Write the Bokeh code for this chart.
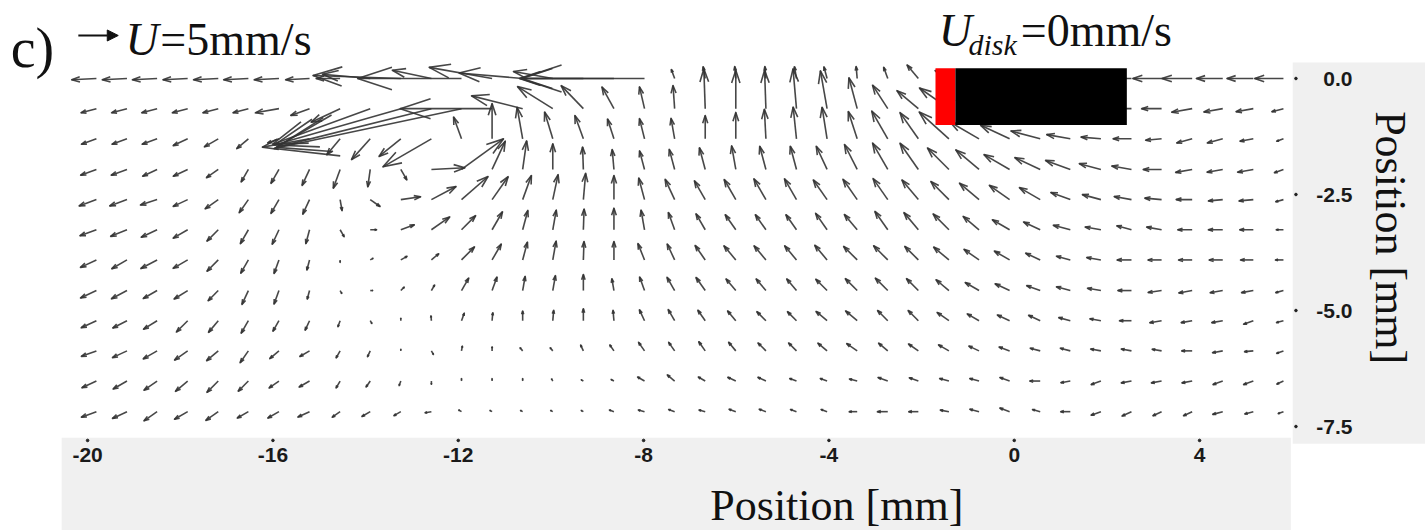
import math
from bokeh.plotting import figure
from bokeh.models import Range1d, Label, Arrow, NormalHead
from bokeh.core.properties import value
from bokeh.embed import file_html
from bokeh.resources import INLINE

# ---------------- data ----------------
# grid positions of the vectors [mm]
x_grid = [-19.81, -19.15, -18.50, -17.84, -17.18, -16.53, -15.87, -15.21, -14.55, -13.90,
          -13.24, -12.58, -11.93, -11.27, -10.61, -9.96, -9.30, -8.64, -7.98, -7.33,
          -6.67, -6.01, -5.36, -4.70, -4.04, -3.39, -2.73, -2.07, -1.41, -0.76,
          -0.10, 0.56, 1.21, 1.87, 2.53, 3.18, 3.84, 4.50, 5.16, 5.81]
y_grid = [0.0, -0.65, -1.30, -1.96, -2.61, -3.26, -3.91, -4.57, -5.22, -5.87, -6.52, -7.18]

# direction [deg, 0 = +x, 90 = +y] and speed [mm/s] of each vector, one list per row
ang_r00 = [183, 183, 183, 183, 183, 183, 183, 183, 180, 175, 178, 168, 180, 170, 175, 170, 180, 180, 180,
           110, 100, 95, 95, 100, 105, 95, 110, 130, 150, 160, 170, 175, 180, 180, 180, 180, 180, 180, 180, 180]
spd_r00 = [3.1, 3.1, 3.1, 3.1, 3.1, 3.1, 3.1, 3.0, 3.0, 6.0, 11, 5, 13, 8, 8, 5, 8, 11.5, 15.5,
           1.2, 1.5, 1.5, 1.5, 1.5, 1.5, 1.5, 1.5, 2.2, 2.0, 2.0, 2.0, 2.0, 2.0, 2.0, 1.0, 3.6, 3.8, 3.3, 3.3, 3.6]
ang_r01 = [195, 195, 195, 195, 195, 195, 190, 200, 205, 200, 196, 194, 192, 180, 166, 148, 134, 119, 103, 94,
           92, 90, 92, 95, 100, 105, 123, 140, 145, 160, 165, 170, 175, 180, 180, 180, 190, 190, 190, 195]
spd_r01 = [2.0, 2.0, 2.0, 2.0, 2.0, 2.0, 3.0, 2.5, 4.0, 13, 16.5, 20, 24, 11.5, 6.6, 5.2, 4.0, 3.1, 2.8, 2.9,
           5.0, 4.8, 4.8, 5.0, 4.8, 4.0, 3.5, 3.5, 4.5, 3, 3, 3, 3, 3, 1.8, 2.5, 2.6, 2.4, 2.2, 1.5]
ang_r02 = [200, 200, 200, 205, 210, 220, 200, 190, 230, 228, 219, 210, 110, 90, 100, 107, 110, 108, 104, 100,
           90, 90, 93, 96, 99, 108, 120, 125, 138, 150, 155, 165, 170, 175, 180, 185, 195, 195, 190, 200]
spd_r02 = [2.0, 2.0, 2.0, 2.0, 2.0, 1.9, 1.5, 6.0, 2.6, 3.5, 3.5, 7.0, 2.9, 4.4, 4.0, 3.5, 3.1, 2.6, 2.6, 2.6,
           2.9, 3.3, 3.7, 4.0, 4.0, 3.6, 4.0, 4.0, 5.0, 4.2, 4.0, 3.8, 3.0, 2.5, 2.3, 2.0, 2.0, 2.0, 1.7, 0.9]
ang_r03 = [200, 200, 205, 205, 215, 240, 240, 245, 250, 262, 300, 3, 36, 65, 82, 90, 92, 95, 105, 105,
           105, 100, 105, 105, 115, 117, 120, 125, 135, 140, 150, 155, 160, 165, 170, 180, 190, 190, 190, 200]
spd_r03 = [2.1, 2.1, 2.0, 2.0, 1.8, 1.8, 2.0, 2.2, 2.5, 2.2, 1.5, 4.2, 6.5, 3.9, 3.6, 3.2, 2.8, 2.5, 2.4, 2.6,
           2.8, 3.0, 3.0, 3.0, 3.2, 3.5, 3.8, 4.0, 3.8, 3.8, 3.7, 3.5, 3.3, 2.8, 2.5, 2.3, 2.1, 2.0, 2.0, 1.2]
ang_r04 = [200, 200, 198, 205, 215, 235, 240, 245, 280, 325, 8, 28, 41, 55, 70, 78, 85, 90, 105, 115,
           120, 120, 120, 120, 125, 125, 125, 130, 135, 140, 145, 150, 160, 165, 170, 175, 180, 185, 185, 195]
spd_r04 = [2.3, 2.3, 2.2, 2.0, 2.0, 2.0, 2.0, 2.0, 1.4, 1.5, 2.5, 3.5, 4.4, 3.5, 3.2, 3.2, 3.3, 3.0, 2.8, 2.8,
           2.7, 2.9, 3.0, 3.0, 3.0, 3.1, 3.2, 3.2, 3.2, 3.2, 3.1, 3.0, 2.6, 2.4, 2.2, 2.1, 2.0, 1.8, 1.8, 1.0]
ang_r05 = [200, 202, 205, 210, 225, 240, 245, 255, 300, 0, 20, 35, 45, 60, 75, 80, 88, 90, 100, 110,
           120, 125, 125, 125, 125, 130, 125, 130, 135, 140, 150, 155, 165, 170, 165, 170, 180, 180, 180, 180]
spd_r05 = [2.2, 2.2, 2.2, 2.1, 2.0, 2.0, 2.0, 1.8, 1.0, 0.8, 1.8, 2.8, 2.5, 2.6, 2.5, 2.5, 2.6, 2.7, 2.5, 2.3,
           2.3, 2.3, 2.3, 2.3, 2.5, 2.5, 2.8, 2.8, 2.8, 2.6, 2.5, 2.3, 2.2, 2.0, 1.9, 1.9, 1.8, 1.8, 1.7, 0.9]
ang_r06 = [205, 210, 208, 210, 225, 240, 250, 255, 270, 30, 30, 40, 45, 60, 75, 80, 88, 90, 112, 115,
           125, 130, 130, 130, 130, 135, 135, 135, 140, 145, 150, 155, 165, 170, 180, 180, 180, 180, 180, 180]
spd_r06 = [2.2, 2.2, 2.3, 2.1, 2.0, 1.9, 1.8, 1.3, 0.3, 0.4, 0.9, 1.2, 2.3, 2.3, 2.3, 2.4, 2.3, 2.3, 2.2, 2.2,
           2.2, 2.3, 2.3, 2.3, 2.4, 2.4, 2.5, 2.4, 2.5, 2.3, 2.2, 2.0, 1.8, 1.8, 1.8, 1.7, 1.7, 1.7, 1.6, 1.0]
ang_r07 = [205, 208, 210, 212, 225, 245, 250, 255, 300, 0, 45, 60, 60, 70, 80, 80, 90, 100, 110, 120,
           125, 130, 130, 130, 135, 135, 135, 135, 140, 150, 155, 160, 165, 170, 180, 188, 190, 190, 190, 195]
spd_r07 = [2.2, 2.2, 2.0, 2.0, 1.8, 1.9, 1.8, 1.1, 0.4, 0.3, 0.6, 0.8, 1.8, 1.8, 1.8, 1.9, 2.0, 1.5, 1.8, 1.9,
           2.0, 1.9, 1.9, 1.9, 2.0, 2.1, 2.2, 2.1, 2.1, 2.0, 2.0, 1.8, 1.8, 1.7, 1.7, 1.7, 1.7, 1.6, 1.5, 1.0]
ang_r08 = [205, 207, 212, 225, 230, 240, 240, 245, 250, 300, 90, 95, 70, 85, 90, 85, 90, 95, 115, 120,
           125, 130, 135, 135, 140, 140, 135, 135, 145, 150, 155, 155, 165, 170, 180, 190, 190, 190, 200, 195]
spd_r08 = [2.1, 2.0, 2.0, 2.0, 1.9, 1.8, 1.5, 1.3, 0.8, 0.4, 0.3, 0.6, 1.0, 1.0, 1.2, 1.3, 1.5, 1.3, 1.5, 1.6,
           1.6, 1.6, 1.6, 1.6, 1.8, 1.9, 1.8, 1.8, 1.8, 1.7, 1.7, 1.6, 1.5, 1.4, 1.5, 1.5, 1.4, 1.4, 1.3, 0.9]
ang_r09 = [200, 205, 210, 215, 220, 235, 220, 210, 240, 245, 90, 300, 80, 90, 130, 130, 115, 125, 125, 125,
           125, 130, 135, 135, 140, 145, 140, 145, 150, 155, 160, 165, 165, 170, 170, 170, 180, 190, 185, 200]
spd_r09 = [2.0, 2.0, 2.0, 2.0, 1.9, 1.8, 1.5, 1.4, 1.0, 0.8, 0.2, 0.5, 0.6, 0.5, 0.5, 0.5, 0.8, 0.9, 1.3, 1.3,
           1.4, 1.4, 1.4, 1.4, 1.5, 1.6, 1.5, 1.5, 1.5, 1.4, 1.4, 1.3, 1.3, 1.3, 1.3, 1.2, 1.3, 1.3, 1.1, 0.9]
ang_r10 = [205, 210, 215, 220, 225, 225, 215, 210, 240, 235, 250, 270, 90, 90, 90, 120, 150, 150, 150, 140,
           150, 155, 155, 160, 160, 165, 160, 160, 165, 165, 160, 180, 190, 200, 190, 190, 190, 200, 200, 205]
spd_r10 = [2.0, 2.0, 2.0, 2.0, 2.0, 1.8, 1.5, 1.5, 1.0, 0.9, 0.6, 0.4, 0.3, 0.3, 0.3, 0.3, 0.3, 0.4, 1.0, 1.2,
           1.0, 1.1, 1.1, 0.9, 0.9, 1.0, 1.3, 1.2, 1.2, 1.2, 1.3, 1.3, 1.2, 1.3, 1.3, 1.3, 1.3, 1.3, 1.3, 0.9]
ang_r11 = [200, 205, 215, 210, 215, 210, 210, 205, 215, 210, 210, 190, 150, 150, 150, 150, 150, 160, 165, 160,
           165, 160, 160, 160, 160, 180, 180, 180, 170, 165, 160, 165, 180, 200, 205, 205, 205, 195, 195, 200]
spd_r11 = [2.0, 2.0, 2.0, 1.9, 1.9, 1.6, 1.6, 1.6, 1.2, 1.2, 1.0, 0.8, 0.4, 0.3, 0.3, 0.3, 0.3, 0.6, 0.8, 0.8,
           0.8, 0.9, 0.9, 0.8, 0.8, 1.0, 1.3, 1.2, 1.1, 1.2, 1.3, 1.0, 1.2, 1.3, 1.3, 1.2, 1.2, 1.3, 1.1, 0.7]

angle_rows = [ang_r00, ang_r01, ang_r02, ang_r03, ang_r04, ang_r05,
              ang_r06, ang_r07, ang_r08, ang_r09, ang_r10, ang_r11]
speed_rows = [spd_r00, spd_r01, spd_r02, spd_r03, spd_r04, spd_r05,
              spd_r06, spd_r07, spd_r08, spd_r09, spd_r10, spd_r11]

# disk (red leading edge + black body) [mm]
disk_edges_x = [-1.70, -1.27, 2.43]
disk_edges_y = [-1.00, 0.22]

legend_speed = 5      # mm/s, reference arrow
disk_speed = 0        # mm/s

x_ticks = [-20, -16, -12, -8, -4, 0, 4]
x_tick_labels = ["-20", "-16", "-12", "-8", "-4", "0", "4"]
y_ticks = [0.0, -2.5, -5.0, -7.5]
y_tick_labels = ["0.0", "-2.5", "-5.0", "-7.5"]

# ---------------- layout (mm of the data space) ----------------
X0, X1 = -20.56, 6.0          # plotted area
Y0, Y1 = -7.74, 0.34
SCALE = 0.1724                # mm of arrow per mm/s
HEAD_A = 0.33
HEAD_B = 0.33

# the frame spans the whole canvas so that the texts in the margins are never clipped
p = figure(width=1425, height=530, x_range=Range1d(-21.88, 8.876), y_range=Range1d(-9.741, 1.681),
           output_backend="svg", toolbar_location=None,
           x_axis_location=None, y_axis_location=None, min_border=0)
p.grid.visible = False
p.outline_line_color = None
p.background_fill_color = "white"
p.border_fill_color = "white"

GRAY = "#f0f0f0"
# gray axis panels
p.quad(left=[X0], right=[5.97], top=[Y0], bottom=[-9.741], fill_color=GRAY, line_color=None)
p.quad(left=[6.01], right=[8.876], top=[Y1 + 0.005], bottom=[-7.87], fill_color=GRAY, line_color=None)

# ticks and tick labels
TICK_FONT = value("Liberation Sans")
p.scatter(x=x_ticks, y=[-7.80] * len(x_ticks), marker="circle", size=2.6, color="#222222")
p.text(x=x_ticks, y=[-7.96] * len(x_ticks), text=x_tick_labels, text_font=TICK_FONT,
       text_font_style="bold", text_font_size="21px", text_align="center", text_baseline="top",
       text_color="#1a1a1a")
p.scatter(x=[6.08] * len(y_ticks), y=y_ticks, marker="circle", size=2.6, color="#222222")
p.text(x=[7.30] * len(y_ticks), y=y_ticks, text=y_tick_labels, text_font=TICK_FONT,
       text_font_style="bold", text_font_size="21px", text_align="right", text_baseline="middle",
       text_color="#1a1a1a")

# vectors (MATLAB-quiver style heads)
shaft_xs, shaft_ys, head_xs, head_ys = [], [], [], []
for r, (angs, spds) in enumerate(zip(angle_rows, speed_rows)):
    y0 = y_grid[r]
    for c, (a, s) in enumerate(zip(angs, spds)):
        x0 = x_grid[c]
        u = SCALE * s * math.cos(math.radians(a))
        v = SCALE * s * math.sin(math.radians(a))
        x1, y1 = x0 + u, y0 + v
        shaft_xs.append([x0, x1])
        shaft_ys.append([y0, y1])
        head_xs.append([x1 - HEAD_A * (u + HEAD_B * v), x1, x1 - HEAD_A * (u - HEAD_B * v)])
        head_ys.append([y1 - HEAD_A * (v - HEAD_B * u), y1, y1 - HEAD_A * (v + HEAD_B * u)])

ARROW_COLOR = "#333333"
p.multi_line(shaft_xs, shaft_ys, line_color=ARROW_COLOR, line_width=1.6, line_alpha=0.9)
p.multi_line(head_xs, head_ys, line_color=ARROW_COLOR, line_width=1.6, line_alpha=0.9,
             line_join="round")

# disk
p.quad(left=[disk_edges_x[0]], right=[disk_edges_x[1]], bottom=[disk_edges_y[0]], top=[disk_edges_y[1]],
       fill_color="#ff0000", line_color=None)
p.quad(left=[disk_edges_x[1]], right=[disk_edges_x[2]], bottom=[disk_edges_y[0]], top=[disk_edges_y[1]],
       fill_color="#000000", line_color=None)

SERIF = "Liberation Serif"
INK = "#111111"
# panel letter
p.add_layout(Label(x=-21.66, y=0.647, text="c)", text_font=SERIF, text_font_size="56px",
                   text_align="left", text_baseline="middle", text_color=INK))
# reference arrow
leg_x0, leg_y = -20.2, 0.927
p.add_layout(Arrow(x_start=leg_x0, y_start=leg_y, x_end=leg_x0 + legend_speed * SCALE, y_end=leg_y,
                   line_width=2, line_color=INK,
                   end=NormalHead(size=11, fill_color=INK, line_color=INK)))
p.add_layout(Label(x=-19.18, y=0.841, text="U", text_font=SERIF, text_font_style="italic",
                   text_font_size="46px", text_baseline="middle", text_color=INK))
p.add_layout(Label(x=-18.43, y=0.841, text=f"={legend_speed}mm/s", text_font=SERIF,
                   text_font_size="46px", text_baseline="middle", text_color=INK))
# disk speed
p.add_layout(Label(x=-1.63, y=1.034, text="U", text_font=SERIF, text_font_style="italic",
                   text_font_size="46px", text_baseline="middle", text_color=INK))
p.add_layout(Label(x=-0.99, y=0.733, text="disk", text_font=SERIF, text_font_style="italic",
                   text_font_size="30px", text_baseline="middle", text_color=INK))
p.add_layout(Label(x=0.14, y=1.034, text=f"={disk_speed}mm/s", text_font=SERIF,
                   text_font_size="46px", text_baseline="middle", text_color=INK))
# axis titles
p.add_layout(Label(x=-3.83, y=-9.20, text="Position [mm]", text_font=SERIF, text_font_size="44px",
                   text_align="center", text_baseline="middle", text_color=INK))
p.add_layout(Label(x=8.12, y=-3.43, text="Position [mm]", text_font=SERIF, text_font_size="44px",
                   text_align="center", text_baseline="middle", angle=-math.pi / 2, text_color=INK))

open("out.html", "w").write(file_html(p, INLINE))
